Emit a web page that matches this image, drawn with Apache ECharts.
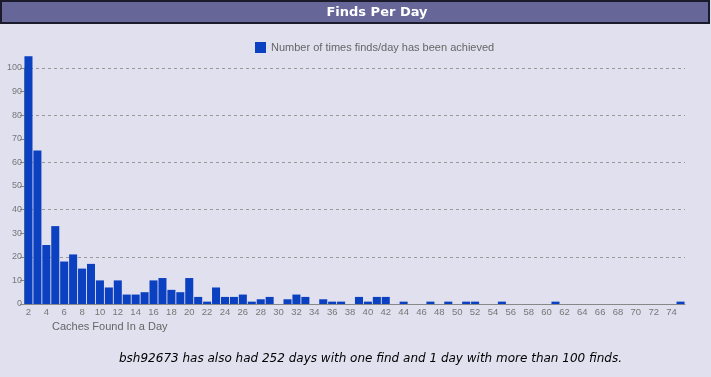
<!DOCTYPE html>
<html>
<head>
<meta charset="utf-8">
<script src="https://cdn.jsdelivr.net/npm/echarts@6/dist/echarts.min.js"></script>
<style>
  html, body { margin: 0; padding: 0; background: #e0e0ef; }
  #chart { width: 711px; height: 377px; }
</style>
</head>
<body>
<div id="chart"></div>
<script>
// caches found in a day: 2 .. 75
var days = [];
for (var d = 2; d <= 75; d++) { days.push(String(d)); }

// number of days with that many finds
var finds = [
  105, 65, 25, 33, 18, 21, 15, 17, 10, 7,    // 2-11
  10, 4, 4, 5, 10, 11, 6, 5, 11, 3,          // 12-21
  1, 7, 3, 3, 4, 1, 2, 3, 0, 2,              // 22-31
  4, 3, 0, 2, 1, 1, 0, 3, 1, 3,              // 32-41
  3, 0, 1, 0, 0, 1, 0, 1, 0, 1,              // 42-51
  1, 0, 0, 1, 0, 0, 0, 0, 0, 1,              // 52-61
  0, 0, 0, 0, 0, 0, 0, 0, 0, 0,              // 62-71
  0, 0, 0, 1                                  // 72-75
];

var legendName = 'Number of times finds/day has been achieved';
var footerText = 'bsh92673 has also had 252 days with one find and 1 day with more than 100 finds.';

var chart = echarts.init(document.getElementById('chart'));
var option = {
    backgroundColor: '#e0e0ef',
    animation: false,
    grid: {
        left: 24,
        right: 26,
        top: 68,
        bottom: 73
    },
    legend: {
        left: 250,
        top: 37,
        icon: 'rect',
        itemWidth: 11,
        itemHeight: 11,
        textStyle: { color: '#666', fontSize: 11, fontFamily: 'Liberation Sans' },
        data: [legendName]
    },
    graphic: [
        {
            type: 'rect',
            shape: { x: 1, y: 1, width: 708, height: 22 },
            style: { fill: '#666699', stroke: '#1a1a2a', lineWidth: 2 }
        },
        {
            type: 'text',
            x: 377,
            y: 13,
            style: {
                text: 'Finds Per Day',
                fill: '#fff',
                font: 'bold 13px "DejaVu Sans"',
                textAlign: 'center',
                textVerticalAlign: 'middle'
            }
        },
        {
            type: 'text',
            x: 52,
            y: 327,
            style: {
                text: 'Caches Found In a Day',
                fill: '#666',
                font: '11px "Liberation Sans"',
                textVerticalAlign: 'middle'
            }
        },
        {
            type: 'text',
            x: 119,
            y: 359,
            style: {
                text: footerText,
                fill: '#000',
                font: 'italic 12px "DejaVu Sans"',
                textVerticalAlign: 'middle'
            }
        }
    ],
    xAxis: [{
        type: 'category',
        data: days,
        axisLine: { lineStyle: { color: '#888' } },
        axisTick: { interval: 1, alignWithLabel: true, length: 4, lineStyle: { color: '#888' } },
        axisLabel: { interval: 1, color: '#777', fontSize: 9.5, margin: 3, fontFamily: 'Liberation Sans' },
        splitLine: { show: false }
    }],
    yAxis: [
        {
            type: 'value',
            position: 'left',
            min: 0,
            max: 100,
            interval: 10,
            axisLine: { show: true, lineStyle: { color: '#888' } },
            axisTick: { show: true, length: 4, lineStyle: { color: '#888' } },
            axisLabel: { color: '#777', fontSize: 9, margin: 2, fontFamily: 'Liberation Sans' },
            splitLine: { show: false }
        },
        {
            type: 'value',
            position: 'left',
            min: 0,
            max: 100,
            interval: 20,
            axisLine: { show: false },
            axisTick: { show: false },
            axisLabel: { show: false },
            splitLine: { show: true, lineStyle: { color: '#999', type: [3, 3], width: 1 } }
        }
    ],
    series: [{
        name: legendName,
        type: 'bar',
        data: finds,
        yAxisIndex: 0,
        clip: false,
        barCategoryGap: '10%',
        itemStyle: { color: '#0b40c0' }
    }]
};
chart.setOption(option);
window.onresize = chart.resize;
</script>
</body>
</html>
